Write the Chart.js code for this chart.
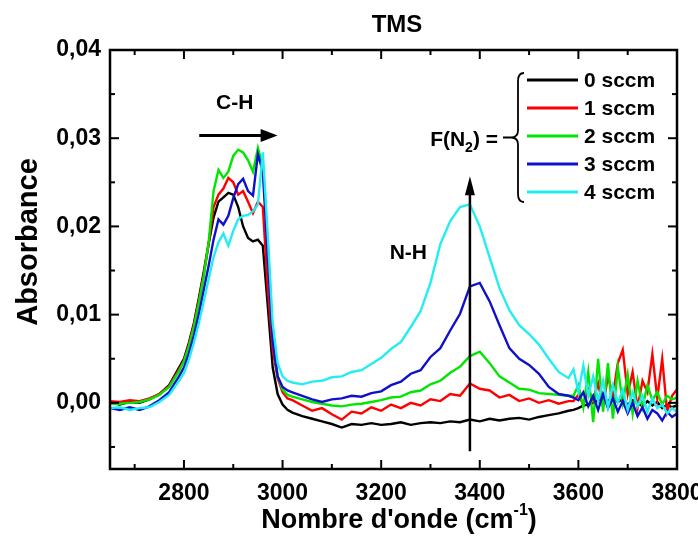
<!DOCTYPE html>
<html>
<head>
<meta charset="utf-8">
<script src="https://cdn.jsdelivr.net/npm/chart.js@4.4.1/dist/chart.umd.min.js"></script>
<style>
  html, body { margin: 0; padding: 0; background: #fff; }
</style>
</head>
<body>
<canvas id="chart" width="698" height="539"></canvas>
<script>
// wavenumber grid (cm-1), denser around the C-H band and the noisy end
const wavenumbers = [
  2650, 2670, 2690, 2710, 2730, 2750, 2770, 2790,
  2800, 2810, 2820, 2830, 2840, 2850, 2860, 2870, 2880, 2890, 2900, 2910, 2920, 2930, 2940, 2950, 2960, 2970, 2980, 2990, 3000, 3010, 3020,
  3040, 3060, 3080, 3100, 3120, 3140, 3160, 3180, 3200, 3220, 3240, 3260, 3280, 3300, 3320, 3340, 3360, 3380, 3400, 3420, 3440, 3460, 3480, 3500, 3520, 3540, 3560, 3580,
  3590, 3600, 3610, 3620, 3630, 3640, 3650, 3660, 3670, 3680, 3690, 3700, 3710, 3720, 3730, 3740, 3750, 3760, 3770, 3780, 3790, 3800
];

const flow0 = [
  0.0000, -0.0002, 0.0001, 0.0000, 0.0004, 0.0010, 0.0020, 0.0040,
  0.0050, 0.0068, 0.0090, 0.0118, 0.0148, 0.0180, 0.0210, 0.0228, 0.0233, 0.0238, 0.0236, 0.0222, 0.0200, 0.0187, 0.0183, 0.0185, 0.0178, 0.0110, 0.0040, 0.0010, -0.0002, -0.0008, -0.0011,
  -0.0015, -0.0018, -0.0021, -0.0024, -0.0028, -0.0024, -0.0025, -0.0023, -0.0025, -0.0024, -0.0022, -0.0025, -0.0023, -0.0022, -0.0023, -0.0021, -0.0022, -0.0019, -0.0021, -0.0018, -0.0020, -0.0018, -0.0017, -0.0019, -0.0016, -0.0014, -0.0012, -0.0009,
  -0.0008, -0.0006, -0.0003, -0.0002, 0.0000, 0.0003, 0.0004, 0.0002, 0.0006, 0.0001, 0.0004, -0.0002, 0.0003, 0.0000, -0.0004, 0.0002, -0.0003, 0.0001, -0.0006, -0.0002, -0.0005, -0.0003
];
const flow1 = [
  0.0002, 0.0001, 0.0003, 0.0002, 0.0005, 0.0010, 0.0019, 0.0038,
  0.0048, 0.0066, 0.0088, 0.0115, 0.0145, 0.0180, 0.0222, 0.0236, 0.0243, 0.0255, 0.0250, 0.0236, 0.0240, 0.0228, 0.0215, 0.0228, 0.0222, 0.0130, 0.0060, 0.0028, 0.0012, 0.0005, 0.0003,
  -0.0003, -0.0009, -0.0006, -0.0013, -0.0019, -0.0010, -0.0012, -0.0005, -0.0009, -0.0002, -0.0006, 0.0000, -0.0003, 0.0004, 0.0002, 0.0010, 0.0008, 0.0022, 0.0016, 0.0014, 0.0006, 0.0009, 0.0002, 0.0005, 0.0000, 0.0003, -0.0001, 0.0002,
  0.0002, 0.0009, -0.0002, 0.0015, 0.0003, 0.0022, -0.0004, 0.0030, 0.0008, 0.0045, 0.0060, 0.0010, 0.0035, -0.0006, 0.0025, 0.0012, 0.0055, 0.0005, 0.0050, -0.0010, 0.0008, 0.0015
];
const flow2 = [
  -0.0001, -0.0001, 0.0000, 0.0001, 0.0004, 0.0009, 0.0018, 0.0036,
  0.0047, 0.0064, 0.0086, 0.0113, 0.0143, 0.0182, 0.0240, 0.0264, 0.0255, 0.0262, 0.0280, 0.0287, 0.0284, 0.0275, 0.0262, 0.0289, 0.0268, 0.0180, 0.0075, 0.0030, 0.0015, 0.0009, 0.0007,
  0.0004, 0.0001, -0.0001, -0.0003, -0.0004, -0.0002, -0.0001, 0.0001, 0.0003, 0.0006, 0.0007, 0.0012, 0.0014, 0.0021, 0.0025, 0.0034, 0.0041, 0.0053, 0.0058, 0.0045, 0.0030, 0.0023, 0.0016, 0.0015, 0.0011, 0.0010, 0.0009, 0.0008,
  0.0008, 0.0020, -0.0005, 0.0035, -0.0022, 0.0050, -0.0010, 0.0045, -0.0018, 0.0040, 0.0000, 0.0032, -0.0012, 0.0025, -0.0005, 0.0020, 0.0003, 0.0012, -0.0002, 0.0008, 0.0004, 0.0006
];
const flow3 = [
  -0.0006, -0.0008, -0.0005, -0.0008, -0.0004, 0.0003, 0.0012, 0.0030,
  0.0040, 0.0056, 0.0076, 0.0100, 0.0128, 0.0155, 0.0185, 0.0208, 0.0202, 0.0212, 0.0232, 0.0248, 0.0254, 0.0240, 0.0235, 0.0282, 0.0262, 0.0165, 0.0070, 0.0030, 0.0018, 0.0014, 0.0012,
  0.0008, 0.0004, 0.0001, 0.0004, 0.0005, 0.0008, 0.0007, 0.0011, 0.0013, 0.0020, 0.0024, 0.0033, 0.0037, 0.0052, 0.0062, 0.0082, 0.0101, 0.0132, 0.0136, 0.0115, 0.0088, 0.0062, 0.0050, 0.0043, 0.0033, 0.0018, 0.0010, 0.0008,
  0.0006, 0.0003, 0.0012, -0.0004, 0.0008, -0.0008, 0.0010, -0.0006, 0.0005, -0.0010, 0.0002, -0.0012, 0.0000, -0.0015, -0.0005, -0.0018, -0.0008, -0.0012, -0.0020, -0.0010, -0.0016, -0.0012
];
const flow4 = [
  -0.0006, -0.0005, -0.0008, -0.0006, -0.0005, 0.0001, 0.0009, 0.0025,
  0.0034, 0.0049, 0.0068, 0.0090, 0.0115, 0.0140, 0.0165, 0.0182, 0.0192, 0.0178, 0.0195, 0.0208, 0.0212, 0.0213, 0.0217, 0.0225, 0.0284, 0.0190, 0.0090, 0.0045, 0.0030, 0.0025, 0.0023,
  0.0021, 0.0024, 0.0025, 0.0029, 0.0030, 0.0035, 0.0037, 0.0044, 0.0051, 0.0061, 0.0069, 0.0086, 0.0104, 0.0136, 0.0180, 0.0206, 0.0222, 0.0225, 0.0200, 0.0165, 0.0130, 0.0105, 0.0088, 0.0078, 0.0066, 0.0050, 0.0035, 0.0028,
  0.0038, 0.0012, 0.0042, 0.0008, 0.0030, 0.0002, 0.0025, -0.0005, 0.0020, 0.0000, 0.0015, -0.0008, 0.0012, -0.0004, 0.0008, -0.0010, 0.0005, -0.0006, -0.0002, -0.0012, -0.0006, -0.0010
];

const seriesLabels = ['0 sccm', '1 sccm', '2 sccm', '3 sccm', '4 sccm'];
const seriesValues = [flow0, flow1, flow2, flow3, flow4];
const seriesColors = ['#000000', '#ff0000', '#00e600', '#1010cc', '#22eef2'];

const xMajorTicks = [2800, 3000, 3200, 3400, 3600, 3800];
const xMinorTicks = [2700, 2900, 3100, 3300, 3500, 3700];
const yMajorTicks = [0, 0.01, 0.02, 0.03, 0.04];
const yMinorTicks = [-0.005, 0.005, 0.015, 0.025, 0.035];

const FONT = '"Liberation Sans", Arial, sans-serif';

// frame, inward ticks, titles and annotations
const decorPlugin = {
  id: 'decor',
  afterDraw(chart) {
    const ctx = chart.ctx;
    const xs = chart.scales.x, ys = chart.scales.y;
    const a = chart.chartArea;
    ctx.save();
    ctx.strokeStyle = '#000';
    ctx.fillStyle = '#000';

    // frame
    ctx.lineWidth = 2.5;
    ctx.strokeRect(a.left, a.top, a.right - a.left, a.bottom - a.top);

    // inward ticks on all four sides
    ctx.lineWidth = 2;
    const line = (x1, y1, x2, y2) => { ctx.beginPath(); ctx.moveTo(x1, y1); ctx.lineTo(x2, y2); ctx.stroke(); };
    xMajorTicks.forEach(v => { const p = xs.getPixelForValue(v); line(p, a.bottom, p, a.bottom - 9); line(p, a.top, p, a.top + 9); });
    xMinorTicks.forEach(v => { const p = xs.getPixelForValue(v); line(p, a.bottom, p, a.bottom - 5); line(p, a.top, p, a.top + 5); });
    yMajorTicks.forEach(v => { const p = ys.getPixelForValue(v); line(a.left, p, a.left + 9, p); line(a.right, p, a.right - 9, p); });
    yMinorTicks.forEach(v => { const p = ys.getPixelForValue(v); line(a.left, p, a.left + 5, p); line(a.right, p, a.right - 5, p); });

    // chart title
    ctx.textAlign = 'center';
    ctx.textBaseline = 'middle';
    ctx.font = 'bold 24px ' + FONT;
    ctx.fillText('TMS', 397, 25);

    // y axis title
    ctx.save();
    ctx.translate(29, 242);
    ctx.rotate(-Math.PI / 2);
    ctx.font = 'bold 29px ' + FONT;
    ctx.fillText('Absorbance', 0, 0);
    ctx.restore();

    // x axis title with superscript
    const main = "Nombre d'onde (cm", sup = '-1', close = ')';
    ctx.font = 'bold 27px ' + FONT;
    const wMain = ctx.measureText(main).width, wClose = ctx.measureText(close).width;
    ctx.font = 'bold 16px ' + FONT;
    const wSup = ctx.measureText(sup).width;
    const tx = 399 - (wMain + wSup + wClose) / 2;
    const ty = 521;
    ctx.textAlign = 'left';
    ctx.font = 'bold 27px ' + FONT;
    ctx.fillText(main, tx, ty);
    ctx.font = 'bold 16px ' + FONT;
    ctx.fillText(sup, tx + wMain, ty - 10);
    ctx.font = 'bold 27px ' + FONT;
    ctx.fillText(close, tx + wMain + wSup, ty);

    // C-H label and horizontal arrow
    ctx.textAlign = 'center';
    ctx.font = 'bold 21px ' + FONT;
    ctx.fillText('C-H', xs.getPixelForValue(2903), ys.getPixelForValue(0.0340));
    const ax1 = xs.getPixelForValue(2831), ax2 = xs.getPixelForValue(2990), ay = ys.getPixelForValue(0.0303);
    ctx.lineWidth = 3;
    line(ax1, ay, ax2 - 14, ay);
    ctx.beginPath(); ctx.moveTo(ax2, ay); ctx.lineTo(ax2 - 17, ay - 6.5); ctx.lineTo(ax2 - 17, ay + 6.5); ctx.closePath(); ctx.fill();

    // N-H label and vertical arrow
    ctx.fillText('N-H', xs.getPixelForValue(3255), ys.getPixelForValue(0.0170));
    const vx = xs.getPixelForValue(3380), vy1 = ys.getPixelForValue(-0.0055), vy2 = ys.getPixelForValue(0.0257);
    ctx.lineWidth = 2.5;
    line(vx, vy1, vx, vy2 + 14);
    ctx.beginPath(); ctx.moveTo(vx, vy2); ctx.lineTo(vx - 5, vy2 + 19); ctx.lineTo(vx + 5, vy2 + 19); ctx.closePath(); ctx.fill();

    // legend: F(N2) = { entries
    const lx = 527, ly0 = 80, dy = 28;
    ctx.font = 'bold 21px ' + FONT;
    ctx.textAlign = 'left';
    seriesLabels.forEach((lab, i) => {
      const y = ly0 + i * dy;
      ctx.strokeStyle = seriesColors[i];
      ctx.lineWidth = 3;
      line(lx, y, lx + 51, y);
      ctx.fillStyle = '#000';
      ctx.fillText(lab, lx + 57, y + 1);
    });
    ctx.strokeStyle = '#000';
    ctx.lineWidth = 1.8;
    const bx = 518, bt = 73, bb = 202, bm = (bt + bb) / 2;
    ctx.beginPath();
    ctx.moveTo(bx + 6, bt);
    ctx.quadraticCurveTo(bx, bt, bx, bt + 8);
    ctx.lineTo(bx, bm - 7);
    ctx.quadraticCurveTo(bx, bm, bx - 7, bm);
    ctx.lineTo(bx - 15, bm);
    ctx.moveTo(bx - 7, bm);
    ctx.quadraticCurveTo(bx, bm, bx, bm + 7);
    ctx.lineTo(bx, bb - 8);
    ctx.quadraticCurveTo(bx, bb, bx + 6, bb);
    ctx.stroke();

    // F(N2) =
    ctx.font = 'bold 21px ' + FONT;
    const p1 = 'F(N', p2 = '2', p3 = ') =';
    const w1 = ctx.measureText(p1).width, w3 = ctx.measureText(p3).width;
    ctx.font = 'bold 14px ' + FONT;
    const w2 = ctx.measureText(p2).width;
    const fx = 498 - (w1 + w2 + w3);
    const fy = bm + 3;
    ctx.font = 'bold 21px ' + FONT;
    ctx.fillText(p1, fx, fy);
    ctx.font = 'bold 14px ' + FONT;
    ctx.fillText(p2, fx + w1, fy + 8);
    ctx.font = 'bold 21px ' + FONT;
    ctx.fillText(p3, fx + w1 + w2, fy);

    ctx.restore();
  }
};

const datasets = seriesValues.map((vals, i) => ({
  label: seriesLabels[i],
  data: wavenumbers.map((x, j) => ({ x: x, y: vals[j] })),
  borderColor: seriesColors[i],
  borderWidth: 2.4,
  pointRadius: 0,
  tension: 0,
  fill: false,
  order: seriesLabels.length - i
}));

const tickFont = { family: FONT, size: 23, weight: 'bold' };

new Chart(document.getElementById('chart'), {
  type: 'line',
  data: { datasets: datasets },
  plugins: [decorPlugin],
  options: {
    responsive: false,
    animation: false,
    layout: { padding: { top: 50, right: 21, bottom: 0, left: 0 } },
    plugins: {
      legend: { display: false },
      title: { display: false },
      tooltip: { enabled: false }
    },
    scales: {
      x: {
        type: 'linear',
        min: 2650,
        max: 3800,
        grid: { display: false, drawTicks: false },
        border: { display: false },
        afterBuildTicks: scale => { scale.ticks = xMajorTicks.map(v => ({ value: v })); },
        afterFit: scale => {
          scale.height = 70;
          // let the last label run past the frame like the original
          scale.paddingLeft = 0;
          scale.paddingRight = 0;
        },
        ticks: {
          font: tickFont,
          color: '#000',
          padding: 11,
          maxRotation: 0,
          autoSkip: false,
          callback: v => String(v)
        }
      },
      y: {
        type: 'linear',
        min: -0.0075,
        max: 0.04,
        grid: { display: false, drawTicks: false },
        border: { display: false },
        afterBuildTicks: scale => { scale.ticks = yMajorTicks.map(v => ({ value: v })); },
        afterFit: scale => {
          scale.width = 110;
          scale.paddingTop = 0;
          scale.paddingBottom = 0;
        },
        ticks: {
          font: tickFont,
          color: '#000',
          padding: 9,
          callback: v => v.toFixed(2).replace('.', ',')
        }
      }
    }
  }
});
</script>
</body>
</html>
